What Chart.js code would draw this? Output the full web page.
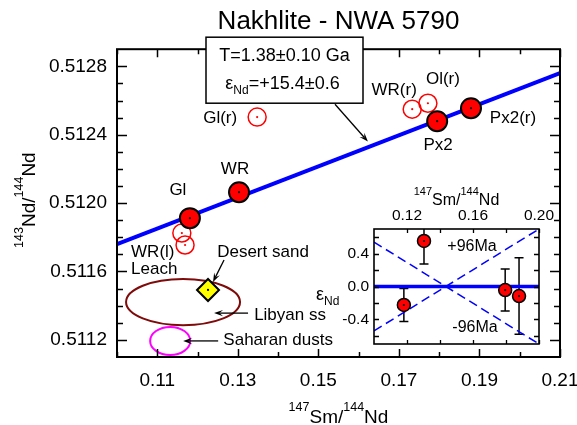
<!DOCTYPE html>
<html><head><meta charset="utf-8">
<script src="https://cdn.jsdelivr.net/npm/chart.js@4"></script>
<style>
html,body{margin:0;padding:0;background:#fff;}
#wrap{position:relative;width:577px;height:425px;overflow:hidden;}
#main{position:absolute;left:0;top:0;}
#inset{position:absolute;left:300px;top:180px;}
</style></head><body>
<div id="wrap"><canvas id="main" width="577" height="425"></canvas><canvas id="inset" width="270" height="175"></canvas></div>
<script>
const FONT = '"Liberation Sans", Arial, Helvetica, sans-serif';

// ---------- main isochron data ----------
const isoLineX = [0.10, 0.21];
const isoLineY = [0.51176, 0.51276];
const filledNames = ['Gl', 'WR', 'Px2', 'Px2(r)'];
const filledX = [0.1181, 0.1303, 0.1795, 0.1879];
const filledY = [0.511912, 0.512064, 0.512479, 0.512555];
const openNames = ['Gl(r)', 'WR(r)', 'Ol(r)', 'WR(l)', 'WR(l)'];
const openX = [0.1348, 0.1733, 0.1772, 0.1161, 0.1169];
const openY = [0.512503, 0.512549, 0.512584, 0.511825, 0.511755];
const sandX = [0.1226];
const sandY = [0.511492];
const ellipseNames = ['Libyan ss', 'Saharan dusts'];
const ellipseCX = [0.1164, 0.1132];
const ellipseCY = [0.511421, 0.511194];
const ellipseRX = [0.01415, 0.00497];
const ellipseRY = [0.000135, 0.000082];

const xTicks = [0.11, 0.13, 0.15, 0.17, 0.19, 0.21];
const xTickLabels = ['0.11', '0.13', '0.15', '0.17', '0.19', '0.21'];
const xMinor = [0.10, 0.12, 0.14, 0.16, 0.18, 0.20];
const yTicks = [0.5112, 0.5116, 0.5120, 0.5124, 0.5128];
const yTickLabels = ['0.5112', '0.5116', '0.5120', '0.5124', '0.5128'];
const yMinor = [0.5113, 0.5114, 0.5115, 0.5117, 0.5118, 0.5119, 0.5121, 0.5122, 0.5123, 0.5125, 0.5126, 0.5127];

// ---------- inset (epsilon residuals) ----------
const epsNd = [-0.225, 0.554, -0.043, -0.116];
const epsErr = [0.20, 0.28, 0.255, 0.465];
const envX = [0.10, 0.20];
const envPlus = [-0.54, 0.70];
const envMinus = [0.54, -0.70];
const zeroX = [0.10, 0.20];
const zeroY = [0, 0];
const insetXTicks = [0.12, 0.16, 0.20];
const insetXTickLabels = ['0.12', '0.16', '0.20'];
const insetXMinor = [0.14, 0.18];
const insetYTicks = [-0.4, 0.0, 0.4];
const insetYTickLabels = ['-0.4', '0.0', '0.4'];
const insetYMinor = [-0.6, -0.2, 0.2, 0.6];

const pts = (xs, ys) => xs.map((x, i) => ({x, y: ys[i]}));

function rich(ctx, parts, x, y, align) {
  let w = 0;
  parts.forEach(p => { ctx.font = p[1] + 'px ' + FONT; w += ctx.measureText(p[0]).width; });
  let cx = align === 'center' ? x - w / 2 : (align === 'right' ? x - w : x);
  ctx.textAlign = 'left'; ctx.textBaseline = 'alphabetic';
  parts.forEach(p => { ctx.font = p[1] + 'px ' + FONT; ctx.fillText(p[0], cx, y + p[2]); cx += ctx.measureText(p[0]).width; });
}

function arrow(ctx, x1, y1, x2, y2) {
  const a = Math.atan2(y2 - y1, x2 - x1), L = 9, W = 3.2;
  ctx.beginPath(); ctx.moveTo(x1, y1); ctx.lineTo(x2 - L * 0.6 * Math.cos(a), y2 - L * 0.6 * Math.sin(a)); ctx.stroke();
  ctx.beginPath();
  ctx.moveTo(x2, y2);
  ctx.lineTo(x2 - L * Math.cos(a) + W * Math.sin(a), y2 - L * Math.sin(a) - W * Math.cos(a));
  ctx.lineTo(x2 - L * 0.6 * Math.cos(a), y2 - L * 0.6 * Math.sin(a));
  ctx.lineTo(x2 - L * Math.cos(a) - W * Math.sin(a), y2 - L * Math.sin(a) + W * Math.cos(a));
  ctx.closePath(); ctx.fill();
}

// frame + inward ticks
const framePlugin = {
  id: 'frameTicks',
  beforeDraw(chart, args, o) {
    if (!o.fill) return;
    const {ctx, chartArea: a} = chart;
    ctx.save(); ctx.fillStyle = o.fill; ctx.fillRect(a.left, a.top, a.right - a.left, a.bottom - a.top); ctx.restore();
  },
  afterDatasetsDraw(chart, args, o) {
    const {ctx, chartArea: a, scales: {x, y}} = chart;
    ctx.save(); ctx.strokeStyle = '#000'; ctx.lineWidth = o.tickWidth;
    ctx.beginPath();
    const tx = (vals, len) => vals.forEach(v => { const p = Math.round(x.getPixelForValue(v)) + 0.5; ctx.moveTo(p, a.bottom); ctx.lineTo(p, a.bottom - len); ctx.moveTo(p, a.top); ctx.lineTo(p, a.top + len); });
    const ty = (vals, len) => vals.forEach(v => { const p = Math.round(y.getPixelForValue(v)) + 0.5; ctx.moveTo(a.left, p); ctx.lineTo(a.left + len, p); ctx.moveTo(a.right, p); ctx.lineTo(a.right - len, p); });
    tx(o.xMajor, o.xMajorLen); tx(o.xMinor, o.xMinorLen);
    ty(o.yMajor, o.yMajorLen); ty(o.yMinor, o.yMinorLen);
    ctx.stroke();
    ctx.lineWidth = o.frameWidth;
    ctx.strokeRect(a.left, a.top, a.right - a.left, a.bottom - a.top);
    ctx.restore();
  }
};

// small dots in marker centres
const dotPlugin = {
  id: 'centerDots',
  afterDatasetsDraw(chart) {
    const ctx = chart.ctx;
    ctx.save();
    chart.data.datasets.forEach((ds, i) => {
      if (!ds.dotColor) return;
      const meta = chart.getDatasetMeta(i);
      ctx.fillStyle = ds.dotColor;
      meta.data.forEach(el => { ctx.beginPath(); ctx.arc(el.x, el.y, 1.1, 0, Math.PI * 2); ctx.fill(); });
    });
    ctx.restore();
  }
};

const pointSets = {filled: [filledX, filledY], open: [openX, openY], sand: [sandX, sandY], ellipse: [ellipseCX, ellipseCY]};
const labelLayout = [
  [filledNames[0], 'filled', 0, -12, -23, 'center'],
  [filledNames[1], 'filled', 1, -4, -18, 'center'],
  [filledNames[2], 'filled', 2, 1, 29, 'center'],
  [filledNames[3], 'filled', 3, 42, 15, 'center'],
  [openNames[0], 'open', 0, -37, 6, 'center'],
  [openNames[1], 'open', 1, -18, -14, 'center'],
  [openNames[2], 'open', 2, 15, -19, 'center'],
  [openNames[3], 'open', 4, -54, 12, 'left'],
  ['Leach', 'open', 4, -54, 29, 'left'],
  ['Desert sand', 'sand', 0, 55, -33, 'center'],
  [ellipseNames[0], 'ellipse', 0, 107, 18, 'center'],
  [ellipseNames[1], 'ellipse', 1, 108, 4, 'center']
];
const arrowLayout = [
  ['sand', 0, 16, -30, 5, -8],
  ['ellipse', 0, 65, 11, 31, 11],
  ['ellipse', 1, 48, 0, 13, 0]
];
const ellipseColors = ['#7f0a0a', '#ff00ff'];

const annotPlugin = {
  id: 'annot',
  beforeDatasetsDraw(chart) {
    const {ctx, scales: {x, y}} = chart;
    ctx.save();
    ellipseCX.forEach((cx, i) => {
      const px = x.getPixelForValue(cx), py = y.getPixelForValue(ellipseCY[i]);
      const rx = Math.abs(x.getPixelForValue(cx + ellipseRX[i]) - px);
      const ry = Math.abs(y.getPixelForValue(ellipseCY[i] + ellipseRY[i]) - py);
      ctx.beginPath(); ctx.ellipse(px, py, rx, ry, 0, 0, Math.PI * 2);
      ctx.strokeStyle = ellipseColors[i]; ctx.lineWidth = 2; ctx.stroke();
    });
    ctx.restore();
  },
  afterDraw(chart) {
    const {ctx, chartArea: a, scales: {x, y}} = chart;
    const ref = (set, i) => [x.getPixelForValue(pointSets[set][0][i]), y.getPixelForValue(pointSets[set][1][i])];
    ctx.save();
    ctx.fillStyle = '#000'; ctx.strokeStyle = '#000';
    ctx.font = '17px ' + FONT; ctx.textBaseline = 'alphabetic';
    labelLayout.forEach(l => {
      const [px, py] = ref(l[1], l[2]);
      ctx.textAlign = l[5];
      ctx.fillText(l[0], px + l[3], py + l[4]);
    });
    ctx.lineWidth = 1.3;
    arrowLayout.forEach(l => {
      const [px, py] = ref(l[0], l[1]);
      arrow(ctx, px + l[2], py + l[3], px + l[4], py + l[5]);
    });
    // result box
    const bx = a.left + 89, by = a.top - 12, bw = 157, bh = 66;
    ctx.fillStyle = '#fff'; ctx.fillRect(bx, by, bw, bh);
    ctx.lineWidth = 1.5; ctx.strokeRect(bx, by, bw, bh);
    ctx.fillStyle = '#000';
    rich(ctx, [['T=1.38±0.10 Ga', 18, 0]], bx + bw / 2, by + 24, 'center');
    rich(ctx, [['ε', 18, 0], ['Nd', 12, 5], ['=+15.4±0.6', 18, 0]], bx + bw / 2 - 2, by + 52, 'center');
    ctx.lineWidth = 1.3;
    arrow(ctx, bx + 129, by + bh + 1, x.getPixelForValue(0.1623), y.getPixelForValue(0.51236));
    // axis titles
    rich(ctx, [['147', 12.5, -12], ['Sm/', 19, 0], ['144', 12.5, -12], ['Nd', 19, 0]], (a.left + a.right) / 2, 423, 'center');
    ctx.translate(35, (a.top + a.bottom) / 2 - 3);
    ctx.rotate(-Math.PI / 2);
    rich(ctx, [['143', 12.5, -12], ['Nd/', 19, 0], ['144', 12.5, -12], ['Nd', 19, 0]], 0, 0, 'center');
    ctx.restore();
  }
};

new Chart(document.getElementById('main'), {
  type: 'scatter',
  data: {
    datasets: [
      {label: 'filled centres', data: pts(filledX, filledY), pointRadius: 0, dotColor: '#000', order: 0},
      {label: 'filled', data: pts(filledX, filledY), pointRadius: 10, pointBackgroundColor: '#ff0000', pointBorderColor: '#000', pointBorderWidth: 2, order: 1},
      {label: 'Desert sand', data: pts(sandX, sandY), pointStyle: 'rectRot', pointRadius: 11, pointBackgroundColor: '#ffff00', pointBorderColor: '#000', pointBorderWidth: 2, dotColor: '#000', order: 2},
      {label: 'open', data: pts(openX, openY), pointRadius: 9, pointBackgroundColor: 'rgba(0,0,0,0)', pointBorderColor: '#ff0000', pointBorderWidth: 1.5, dotColor: '#ff0000', order: 3},
      {label: 'isochron', type: 'line', data: pts(isoLineX, isoLineY), borderColor: '#0000ff', borderWidth: 4, pointRadius: 0, fill: false, order: 4}
    ]
  },
  options: {
    responsive: false, animation: false, devicePixelRatio: 1,
    layout: {padding: {left: 0, right: 17, top: 0, bottom: 0}},
    plugins: {
      legend: {display: false}, tooltip: {enabled: false},
      title: {display: true, fullSize: false, text: 'Nakhlite - NWA 5790', color: '#000', font: {family: FONT, size: 26, weight: 'normal'}, padding: {top: 6, bottom: 12}},
      frameTicks: {xMajor: xTicks, xMinor: xMinor, yMajor: yTicks, yMinor: yMinor, xMajorLen: 8, xMinorLen: 5, yMajorLen: 10, yMinorLen: 6, tickWidth: 1.5, frameWidth: 2}
    },
    scales: {
      x: {
        type: 'linear', min: 0.10, max: 0.21,
        grid: {display: false, drawTicks: false}, border: {display: false},
        ticks: {autoSkip: false, maxRotation: 0, padding: 12, color: '#000', font: {family: FONT, size: 19}, callback: (v, i) => xTickLabels[i]},
        afterBuildTicks: s => { s.ticks = xTicks.map(v => ({value: v})); },
        afterFit: s => { s.height = 68; s.paddingLeft = 0; s.paddingRight = 0; }
      },
      y: {
        type: 'linear', min: 0.5111, max: 0.5129,
        grid: {display: false, drawTicks: false}, border: {display: false},
        ticks: {autoSkip: false, padding: 10, color: '#000', font: {family: FONT, size: 19}, callback: (v, i) => yTickLabels[i]},
        afterBuildTicks: s => { s.ticks = yTicks.map(v => ({value: v})); },
        afterFit: s => { s.width = 117; s.paddingTop = 0; s.paddingBottom = 0; }
      }
    }
  },
  plugins: [framePlugin, dotPlugin, annotPlugin]
});

// ---------- inset ----------
const errPlugin = {
  id: 'errBars',
  beforeDatasetsDraw(chart) {
    const {ctx, chartArea: a, scales: {x, y}} = chart;
    ctx.save();
    ctx.beginPath(); ctx.rect(a.left, a.top, a.right - a.left, a.bottom - a.top); ctx.clip();
    ctx.strokeStyle = '#000'; ctx.lineWidth = 1.5;
    filledX.forEach((xv, i) => {
      const px = x.getPixelForValue(xv);
      const y1 = y.getPixelForValue(epsNd[i] + epsErr[i]), y2 = y.getPixelForValue(epsNd[i] - epsErr[i]);
      ctx.beginPath();
      ctx.moveTo(px, y1); ctx.lineTo(px, y2);
      ctx.moveTo(px - 4.5, y1); ctx.lineTo(px + 4.5, y1);
      ctx.moveTo(px - 4.5, y2); ctx.lineTo(px + 4.5, y2);
      ctx.stroke();
    });
    ctx.restore();
  },
  afterDraw(chart) {
    const {ctx, chartArea: a, scales: {x, y}} = chart;
    ctx.save(); ctx.fillStyle = '#000';
    ctx.font = '16px ' + FONT; ctx.textAlign = 'center'; ctx.textBaseline = 'middle';
    ctx.fillText('+96Ma', x.getPixelForValue(0.1594), y.getPixelForValue(0.49));
    ctx.fillText('-96Ma', x.getPixelForValue(0.1612), y.getPixelForValue(-0.505));
    rich(ctx, [['147', 11, -10], ['Sm/', 16, 0], ['144', 11, -10], ['Nd', 16, 0]], (a.left + a.right) / 2, 25, 'center');
    rich(ctx, [['ε', 18, 0], ['Nd', 12, 5]], 16, 120, 'left');
    ctx.restore();
  }
};

new Chart(document.getElementById('inset'), {
  type: 'scatter',
  data: {
    datasets: [
      {label: 'centres', data: pts(filledX, epsNd), pointRadius: 0, dotColor: '#000', order: 0},
      {label: 'residuals', data: pts(filledX, epsNd), pointRadius: 6.5, pointBackgroundColor: '#ff0000', pointBorderColor: '#000', pointBorderWidth: 1.5, order: 1},
      {label: 'zero', type: 'line', data: pts(zeroX, zeroY), borderColor: '#0000ff', borderWidth: 3.5, pointRadius: 0, order: 2},
      {label: '+96Ma', type: 'line', data: pts(envX, envPlus), borderColor: '#0000ff', borderWidth: 1.5, borderDash: [9, 5], pointRadius: 0, order: 3},
      {label: '-96Ma', type: 'line', data: pts(envX, envMinus), borderColor: '#0000ff', borderWidth: 1.5, borderDash: [9, 5], pointRadius: 0, order: 3}
    ]
  },
  options: {
    responsive: false, animation: false, devicePixelRatio: 1,
    layout: {padding: {left: 0, right: 31, top: 0, bottom: 11}},
    plugins: {
      legend: {display: false}, tooltip: {enabled: false},
      frameTicks: {fill: '#fff', xMajor: insetXTicks, xMinor: insetXMinor, yMajor: insetYTicks, yMinor: insetYMinor, xMajorLen: 4, xMinorLen: 4, yMajorLen: 5, yMinorLen: 5, tickWidth: 1.3, frameWidth: 1.6}
    },
    scales: {
      x: {
        type: 'linear', position: 'top', min: 0.10, max: 0.20,
        grid: {display: false, drawTicks: false}, border: {display: false},
        ticks: {autoSkip: false, maxRotation: 0, padding: 4, color: '#000', font: {family: FONT, size: 15.5}, callback: (v, i) => insetXTickLabels[i]},
        afterBuildTicks: s => { s.ticks = insetXTicks.map(v => ({value: v})); },
        afterFit: s => { s.height = 49; s.paddingLeft = 0; s.paddingRight = 0; }
      },
      y: {
        type: 'linear', min: -0.7, max: 0.7,
        grid: {display: false, drawTicks: false}, border: {display: false},
        ticks: {autoSkip: false, padding: 5, color: '#000', font: {family: FONT, size: 15.5}, callback: (v, i) => insetYTickLabels[i]},
        afterBuildTicks: s => { s.ticks = insetYTicks.map(v => ({value: v})); },
        afterFit: s => { s.width = 74; s.paddingTop = 0; s.paddingBottom = 0; }
      }
    }
  },
  plugins: [framePlugin, errPlugin, dotPlugin]
});
</script>
</body></html>
